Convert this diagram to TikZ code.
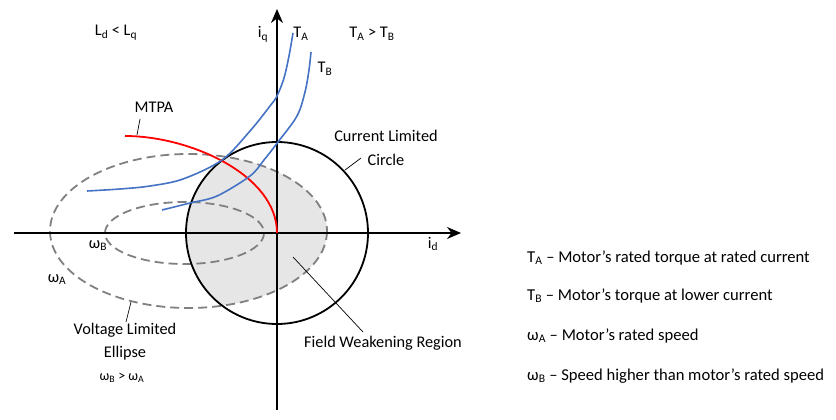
\documentclass[tikz,border=0pt]{standalone}
\usepackage{fontspec}
\setmainfont{Carlito}
\usetikzlibrary{arrows.meta}
\definecolor{curveblue}{HTML}{4472C4}
\definecolor{mtpared}{HTML}{FF0000}
\definecolor{ellgrey}{HTML}{808080}
\definecolor{shadegrey}{HTML}{E6E6E6}
\newcommand{\sbs}[1]{\textsubscript{#1}}
\begin{document}
\begin{tikzpicture}[x=1pt,y=-1pt,
  font=\fontsize{16.3}{19}\selectfont,
  lbl/.style={anchor=base, inner sep=0pt},
  legend/.style={anchor=base west, inner sep=0pt, font=\fontsize{16.6}{19}\selectfont},
  axisline/.style={line width=1.8pt, -{Stealth[length=14pt,width=12pt]}},
  ellline/.style={ellgrey, line width=1.8pt, dash pattern=on 9pt off 5pt},
  circline/.style={black, line width=1.8pt},
  bluecurve/.style={curveblue, line width=1.6pt},
  redcurve/.style={mtpared, line width=1.8pt},
  leader/.style={black, line width=0.7pt}]
\useasboundingbox (0,0) rectangle (836,420);
% shaded field weakening region
\begin{scope}
  \clip (277,233) circle (91);
  \fill[shadegrey] (188.5,231) ellipse [x radius=138.5, y radius=77];
\end{scope}
% ellipses
\draw[ellline] (188.5,231) ellipse [x radius=138.5, y radius=77];
\draw[ellline] (184.5,233) ellipse [x radius=79.5, y radius=31];
% current limit circle
\draw[circline] (277,233) circle (91);
% axes
\coordinate (xl) at (14,233);
\coordinate (xr) at (461,233);
\coordinate (yb) at (277,410);
\coordinate (yt) at (277,9);
\draw[axisline] (xl) -- (xr);
\draw[axisline] (yb) -- (yt);
% MTPA
\coordinate (org) at (277,233);
\coordinate (mtpaend) at (125,136);
\draw[redcurve] (org) .. controls (277,175) and (190,136) .. (mtpaend);
% torque curves
\draw[bluecurve] plot[smooth, tension=0.55] coordinates {(87,191) (120,189) (150,186) (183,179) (222,160) (250,131) (270,106) (277,96) (284,78) (289,56) (293,33)};
\draw[bluecurve] plot[smooth, tension=0.55] coordinates {(162,210) (190,203) (217,196) (250,176) (264,160) (278,142) (297,116) (305,92) (309,70) (311,52)};
% labels
\node[lbl] (ldlq) at (116,36) {L\sbs{d} < L\sbs{q}};
\node[lbl] (iq) at (263,38) {i\sbs{q}};
\node[lbl] (ta) at (301,38) {T\sbs{A}};
\node[lbl] (tb) at (325,73) {T\sbs{B}};
\node[lbl] (tatb) at (372,38) {T\sbs{A} > T\sbs{B}};
\node[lbl] (mtpa) at (154,113) {MTPA};
\node[lbl] (cl1) at (386,142) {Current Limited};
\node[lbl] (cl2) at (386,165) {Circle};
\node[lbl] (id) at (433,248) {i\sbs{d}};
\node[lbl] (wb) at (98,248) {ω\sbs{B}};
\node[lbl] (wa) at (57,282) {ω\sbs{A}};
\node[lbl] (vl1) at (125,334) {Voltage Limited};
\node[lbl] (vl2) at (125,357) {Ellipse};
\node[lbl, font=\fontsize{14}{17}\selectfont] (wbwa) at (122,380) {ω\sbs{B} > ω\sbs{A}};
\node[lbl] (fw) at (383,347) {Field Weakening Region};
% leaders
\coordinate (mtpaL) at (137,135);
\coordinate (mtpaT) at (140,119);
\draw[leader] (mtpaL) -- (mtpaT);
\coordinate (clL) at (345,170);
\coordinate (clT) at (361,158);
\draw[leader] (clL) -- (clT);
\coordinate (vlL) at (131,302);
\coordinate (vlT) at (126,322);
\draw[leader] (vlL) -- (vlT);
\coordinate (fwL) at (293,257);
\coordinate (fwT) at (363,332);
\draw[leader] (fwL) -- (fwT);
% legend
\node[legend] (leg1) at (527,262) {T\sbs{A} – Motor’s rated torque at rated current};
\node[legend] (leg2) at (527,300) {T\sbs{B} – Motor’s torque at lower current};
\node[legend] (leg3) at (527,340) {ω\sbs{A} – Motor’s rated speed};
\node[legend] (leg4) at (527,380) {ω\sbs{B} – Speed higher than motor’s rated speed};
\end{tikzpicture}
\end{document}
